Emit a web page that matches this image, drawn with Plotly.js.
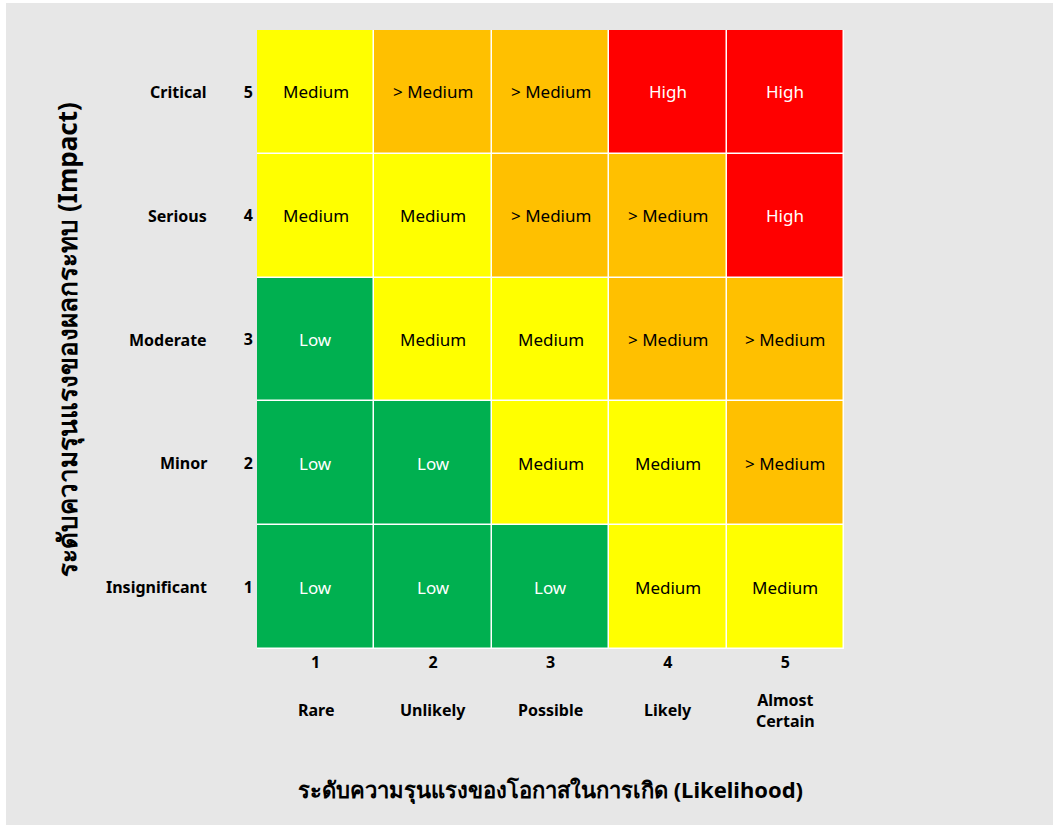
<!DOCTYPE html>
<html>
<head>
<meta charset="utf-8">
<script src="https://cdn.plot.ly/plotly-3.0.1.min.js"></script>
<style>
html,body{margin:0;padding:0;background:#ffffff;}
#chart{position:absolute;left:6px;top:3px;width:1047px;height:822px;}
</style>
</head>
<body>
<div id="chart"></div>
<script>
const likelihoodValues = [1, 2, 3, 4, 5];
const likelihoodNames = ["Rare", "Unlikely", "Possible", "Likely", "Almost<br>Certain"];
const impactValues = [1, 2, 3, 4, 5];
const impactNames = ["Insignificant", "Minor", "Moderate", "Serious", "Critical"];
// rows: impact 1 (bottom) .. 5 (top); columns: likelihood 1..5
const row1 = ["Low", "Low", "Low", "Medium", "Medium"];
const row2 = ["Low", "Low", "Medium", "Medium", "> Medium"];
const row3 = ["Low", "Medium", "Medium", "> Medium", "> Medium"];
const row4 = ["Medium", "Medium", "> Medium", "> Medium", "High"];
const row5 = ["Medium", "> Medium", "> Medium", "High", "High"];
const levels = ["Low", "Medium", "> Medium", "High"];
const levelColors = ["#00b050", "#ffff00", "#ffc000", "#ff0000"];
const levelTextColors = ["#ffffff", "#000000", "#000000", "#ffffff"];
const xTitle = "ระดับความรุนแรงของโอกาสในการเกิด (Likelihood)";
const yTitle = "ระดับความรุนแรงของผลกระทบ (Impact)";

const rows = [row1, row2, row3, row4, row5];
const z = rows.map(r => r.map(v => levels.indexOf(v)));
const n = levels.length;
const colorscale = [];
levelColors.forEach((c, i) => {
  colorscale.push([i / n, c]);
  colorscale.push([(i + 1) / n, c]);
});

const FONT = "Noto Sans, Roboto, sans-serif";
const annotations = [];
rows.forEach((r, i) => {
  r.forEach((v, j) => {
    annotations.push({
      x: likelihoodValues[j], y: impactValues[i], xref: "x", yref: "y",
      text: v, showarrow: false,
      font: {family: FONT, size: 17, color: levelTextColors[levels.indexOf(v)]}
    });
  });
});
impactNames.forEach((nm, i) => {
  annotations.push({
    x: -0.0825, xref: "paper", xanchor: "right",
    y: impactValues[i], yref: "y", yanchor: "middle",
    text: nm, showarrow: false,
    font: {family: FONT, size: 16, color: "#000", weight: "bold"}
  });
});
likelihoodNames.forEach((nm, j) => {
  annotations.push({
    x: likelihoodValues[j], xref: "x", xanchor: "center",
    y: -0.099, yref: "paper", yanchor: "middle",
    text: nm, showarrow: false,
    font: {family: FONT, size: 16, color: "#000", weight: "bold"}
  });
});

const trace = {
  type: "heatmap",
  x: likelihoodValues, y: impactValues, z: z,
  zmin: -0.5, zmax: n - 0.5,
  colorscale: colorscale, showscale: false,
  xgap: 1.5, ygap: 1.5, hoverinfo: "skip"
};

const layout = {
  width: 1047, height: 822,
  margin: {l: 250.5, r: 208.5, t: 27, b: 176},
  paper_bgcolor: "#e7e7e7", plot_bgcolor: "#ffffff",
  font: {family: FONT, color: "#000"},
  xaxis: {
    tickvals: likelihoodValues, ticktext: likelihoodValues.map(String),
    showgrid: false, zeroline: false, showline: false, ticks: "",
    tickfont: {family: FONT, size: 16, weight: "bold"},
    ticklabelstandoff: 2,
    range: [0.5, 5.5], fixedrange: true,
    title: {text: xTitle, font: {family: FONT, size: 22, weight: "bold"}, standoff: 110}
  },
  yaxis: {
    tickvals: impactValues, ticktext: impactValues.map(String),
    showgrid: false, zeroline: false, showline: false, ticks: "",
    tickfont: {family: FONT, size: 16, weight: "bold"},
    ticklabelstandoff: 3,
    range: [0.5, 5.5], fixedrange: true,
    title: {text: yTitle, font: {family: FONT, size: 26, weight: "bold"}, standoff: 158}
  },
  annotations: annotations
};

Plotly.newPlot("chart", [trace], layout, {displayModeBar: false, staticPlot: true});
</script>
</body>
</html>
